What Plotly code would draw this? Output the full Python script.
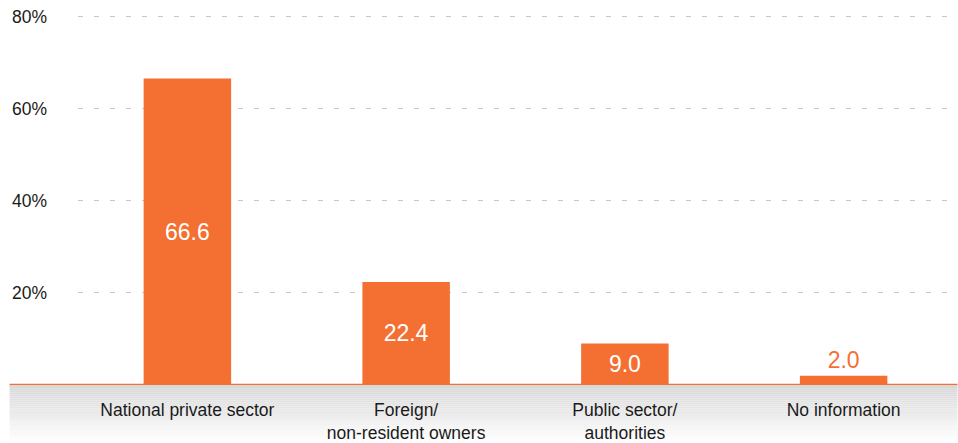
import plotly.graph_objects as go

categories = ["National private sector", "Foreign/<br>non-resident owners",
              "Public sector/<br>authorities", "No information"]
values = [66.6, 22.4, 9.0, 2.0]
y_ticks = [20, 40, 60, 80]
y_tick_labels = ["20%", "40%", "60%", "80%"]

ORANGE = "#F37032"
FONT = "Liberation Sans, Arial, Helvetica, sans-serif"
W, H = 958, 443
YMAX = 80.4
PX_PER_UNIT = 4.6
ML, MR, MB = 77.5, 4.5, 58
MT = H - MB - YMAX * PX_PER_UNIT
PW, PH = W - ML - MR, H - MT - MB

text_pos = ["inside" if v > 5 else "outside" for v in values]
text_col = ["white" if v > 5 else ORANGE for v in values]

fig = go.Figure(go.Bar(
    x=categories, y=values, marker=dict(color=ORANGE, line=dict(width=0)),
    text=[f"{v:.1f}" for v in values], textposition=text_pos,
    insidetextanchor="middle",
    textfont=dict(size=23, color=text_col, family=FONT),
    cliponaxis=False, width=0.4,
))

shapes = []
# gray gradient band below baseline
n = 30
band_px = 58
for i in range(n):
    t = i / (n - 1)
    g = int(216 + (255 - 216) * t)
    y0 = -(i * band_px / n) / PH
    y1 = -((i + 1) * band_px / n) / PH
    shapes.append(dict(type="rect", xref="paper", yref="paper",
                       x0=(9 - ML) / PW, x1=(W - ML) / PW, y0=y1, y1=y0,
                       fillcolor=f"rgb({g},{g},{min(g + 1, 255)})",
                       line=dict(width=0), layer="below"))
# orange baseline
shapes.append(dict(type="line", xref="paper", yref="y",
                   x0=(9 - ML) / PW, x1=(W - ML) / PW, y0=0, y1=0,
                   line=dict(color=ORANGE, width=2.5), layer="above"))

annotations = [dict(xref="paper", yref="y", x=(9 - ML) / PW, y=v, text=lab,
                    showarrow=False, xanchor="left", yanchor="middle",
                    font=dict(size=17.5, color="#1a1a1a", family=FONT))
               for v, lab in zip(y_ticks, y_tick_labels)]

fig.update_layout(
    width=W, height=H, margin=dict(l=ML, r=MR, t=MT, b=MB, autoexpand=False),
    plot_bgcolor="white", paper_bgcolor="white", showlegend=False,
    shapes=shapes, annotations=annotations, bargap=0.6,
    font=dict(family=FONT, size=17.5, color="#1a1a1a"),
    xaxis=dict(showgrid=False, showline=False, ticks="outside", ticklen=9,
               automargin=False,
               tickcolor="rgba(0,0,0,0)", tickfont=dict(size=17.5, color="#1a1a1a")),
    yaxis=dict(range=[0, YMAX], tickvals=y_ticks, showticklabels=False,
               automargin=False,
               showgrid=True, gridcolor="#c8c8c8", griddash="5px,11px", gridwidth=1,
               zeroline=False, showline=False),
)
fig.write_html("out.html", config={"displayModeBar": False},
               post_script="document.body.style.margin='0';document.body.style.overflow='hidden';")
